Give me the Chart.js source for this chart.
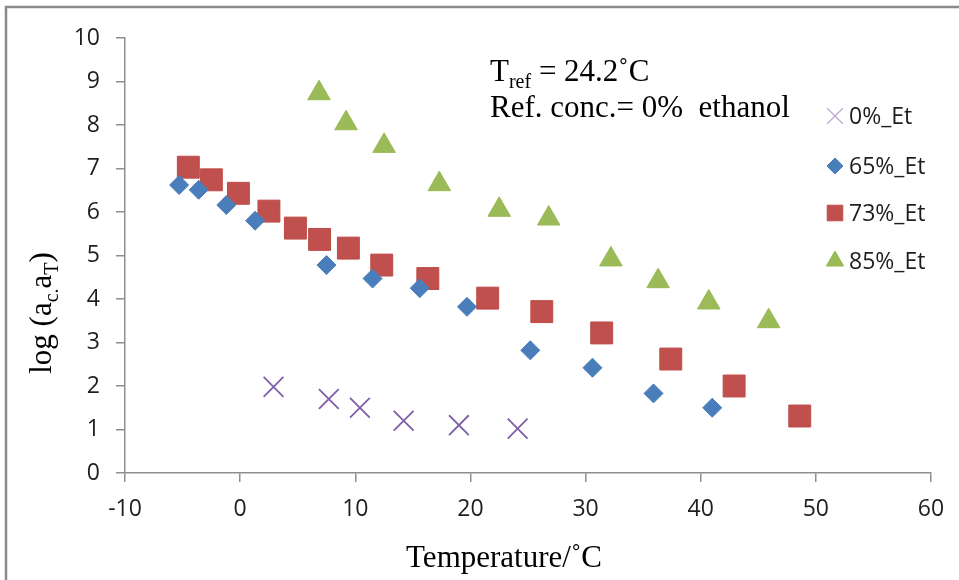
<!DOCTYPE html>
<html>
<head>
<meta charset="utf-8">
<title>log (ac.aT) vs Temperature</title>
<script src="https://cdn.jsdelivr.net/npm/chart.js@4/dist/chart.umd.min.js"></script>
<style>
  html, body { margin: 0; padding: 0; background: #fff; }
  #wrap { width: 959px; height: 580px; }
</style>
</head>
<body>
<div id="wrap"><canvas id="chart" width="959" height="580"></canvas></div>
<script>
// Series (temperature in degC, log shift factor)
const labels = ['0%_Et', '65%_Et', '73%_Et', '85%_Et'];

const temp0 = [2.9, 7.7, 10.4, 14.2, 19.0, 24.1];
const shift0 = [1.98, 1.70, 1.50, 1.20, 1.10, 1.02];

const temp65 = [-5.3, -3.6, -1.2, 1.3, 7.5, 11.5, 15.6, 19.7, 25.2, 30.6, 35.9, 41.0];
const shift65 = [6.62, 6.51, 6.16, 5.80, 4.78, 4.47, 4.25, 3.82, 2.82, 2.42, 1.83, 1.50];

const temp73 = [-4.5, -2.5, -0.15, 2.5, 4.8, 6.9, 9.4, 12.3, 16.3, 21.5, 26.2, 31.4, 37.4, 42.9, 48.6];
const shift73 = [7.03, 6.74, 6.43, 6.02, 5.63, 5.37, 5.17, 4.78, 4.47, 4.02, 3.71, 3.22, 2.62, 2.00, 1.31];

const temp85 = [6.85, 9.2, 12.5, 17.3, 22.5, 26.8, 32.2, 36.3, 40.7, 45.9];
const shift85 = [8.73, 8.04, 7.52, 6.64, 6.05, 5.85, 4.91, 4.41, 3.92, 3.49];

const xTicks = [-10, 0, 10, 20, 30, 40, 50, 60];
const yTicks = [0, 1, 2, 3, 4, 5, 6, 7, 8, 9, 10];

function pts(xs, ys) {
    return xs.map((x, i) => ({ x: x, y: ys[i] }));
}

const serif = '"Liberation Serif", "Times New Roman", serif';
const sans = '"Open Sans", "DejaVu Sans", sans-serif';
const axisGray = '#8e8e8e';
const labelColor = '#1e1e1e';

// draws a run of text pieces, some of them as subscripts
function drawRuns(ctx, runs, x, y, size) {
    runs.forEach(r => {
        const fs = r.sub ? Math.round(size * 0.66) : size;
        ctx.font = fs + 'px ' + serif;
        ctx.fillText(r.t, x, r.sub ? y + size * 0.22 : y);
        x += ctx.measureText(r.t).width;
    });
    return x;
}
function runsWidth(ctx, runs, size) {
    let w = 0;
    runs.forEach(r => {
        ctx.font = (r.sub ? Math.round(size * 0.66) : size) + 'px ' + serif;
        w += ctx.measureText(r.t).width;
    });
    return w;
}

const decorPlugin = {
    id: 'decor',
    beforeDraw(chart) {
        const ctx = chart.ctx;
        ctx.save();
        ctx.fillStyle = '#fff';
        ctx.fillRect(0, 0, chart.width, chart.height);
        // outer frame (only left and top edges are in view)
        ctx.strokeStyle = '#8a8a8a';
        ctx.lineWidth = 2.5;
        ctx.strokeRect(6, 7, chart.width + 20, chart.height + 20);
        ctx.restore();
    },
    afterDraw(chart) {
        const ctx = chart.ctx;
        ctx.save();
        ctx.fillStyle = '#000';
        ctx.textBaseline = 'alphabetic';
        ctx.textAlign = 'left';

        // annotation
        drawRuns(ctx, [{ t: 'T' }, { t: 'ref', sub: true }, { t: ' = 24.2˚C' }], 490, 81, 31);
        drawRuns(ctx, [{ t: 'Ref. conc.= 0%  ethanol' }], 490, 117, 31);

        // x axis title
        const xRuns = [{ t: 'Temperature/˚C' }];
        const xw = runsWidth(ctx, xRuns, 31);
        drawRuns(ctx, xRuns, 504 - xw / 2, 567, 31);

        // y axis title (rotated)
        const yRuns = [{ t: 'log (a' }, { t: 'c.', sub: true }, { t: 'a' }, { t: 'T', sub: true }, { t: ')' }];
        const yw = runsWidth(ctx, yRuns, 31);
        ctx.translate(51, 313);
        ctx.rotate(-Math.PI / 2);
        drawRuns(ctx, yRuns, -yw / 2, 0, 31);
        ctx.setTransform(1, 0, 0, 1, 0, 0);

        // legend
        const rows = [116, 166, 213, 261];
        chart.data.datasets.forEach((ds, i) => {
            const y = rows[i];
            const opts = {
                pointStyle: ds.pointStyle,
                radius: ds.legendRadius,
                rotation: 0,
                borderWidth: ds.pointStyle === 'crossRot' ? 1.2 : 1
            };
            ctx.strokeStyle = ds.borderColor;
            ctx.fillStyle = ds.backgroundColor;
            ctx.lineWidth = opts.borderWidth;
            if (ds.pointStyle === 'crossRot') ctx.globalAlpha = 0.55;
            Chart.helpers.drawPoint(ctx, opts, 835, y);
            ctx.globalAlpha = 1;
            ctx.fillStyle = labelColor;
            ctx.font = '23px ' + sans;
            ctx.textBaseline = 'middle';
            ctx.fillText(ds.label, 849, y + 1);
        });
        ctx.restore();
    }
};

new Chart(document.getElementById('chart'), {
    type: 'scatter',
    data: {
        datasets: [
            {
                label: labels[0], data: pts(temp0, shift0),
                pointStyle: 'crossRot', pointRadius: 14, pointBorderWidth: 1.8,
                borderColor: '#7F5FA8', backgroundColor: '#7F5FA8', legendRadius: 11
            },
            {
                label: labels[1], data: pts(temp65, shift65),
                pointStyle: 'rectRot', pointRadius: 9.5, pointBorderWidth: 1,
                borderColor: '#4A7EBB', backgroundColor: '#4A7EBB', legendRadius: 8
            },
            {
                label: labels[2], data: pts(temp73, shift73),
                pointStyle: 'rect', pointRadius: 15.5, pointBorderWidth: 1,
                borderColor: '#BE4B48', backgroundColor: '#C0504D', legendRadius: 11
            },
            {
                label: labels[3], data: pts(temp85, shift85),
                pointStyle: 'triangle', pointRadius: 13, pointBorderWidth: 1,
                borderColor: '#98B954', backgroundColor: '#9BBB59', legendRadius: 10
            }
        ]
    },
    options: {
        responsive: false,
        animation: false,
        devicePixelRatio: 1,
        layout: { padding: { left: 0, top: 38, right: 28, bottom: 0 } },
        plugins: {
            legend: { display: false },
            tooltip: { enabled: false }
        },
        scales: {
            x: {
                type: 'linear',
                min: -10, max: 60,
                afterFit(scale) { scale.height = 107; },
                afterBuildTicks(scale) { scale.ticks = xTicks.map(v => ({ value: v })); },
                grid: { drawOnChartArea: false, drawTicks: true, tickLength: 9, color: axisGray, lineWidth: 1.5 },
                border: { display: true, color: axisGray, width: 1.5 },
                ticks: { color: labelColor, font: { family: sans, size: 23 }, padding: 14, maxRotation: 0 }
            },
            y: {
                type: 'linear',
                min: 0, max: 10,
                afterFit(scale) { scale.width = 125; },
                afterBuildTicks(scale) { scale.ticks = yTicks.map(v => ({ value: v })); },
                grid: { drawOnChartArea: false, drawTicks: true, tickLength: 9, color: axisGray, lineWidth: 1.5 },
                border: { display: true, color: axisGray, width: 1.5 },
                ticks: { color: labelColor, font: { family: sans, size: 23 }, padding: 16 }
            }
        }
    },
    plugins: [decorPlugin]
});
</script>
</body>
</html>
